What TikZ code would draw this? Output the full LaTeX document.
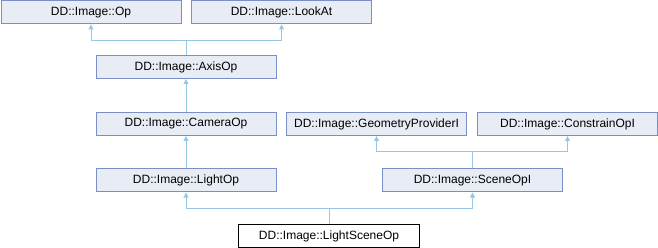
\documentclass[tikz,border=0pt]{standalone}
\usepackage{fontspec}
\setmainfont{Liberation Sans}
\usetikzlibrary{arrows.meta,positioning}

\definecolor{clsfill}{RGB}{232,236,244}
\definecolor{clsdraw}{RGB}{122,143,199}
\definecolor{inhline}{RGB}{150,200,228}

\begin{document}
\begin{tikzpicture}[
  x=1pt, y=-1pt,
  font=\fontsize{12}{14}\selectfont,
  cls/.style={
    draw=clsdraw,
    fill=clsfill,
    line width=1pt,
    minimum width=180pt,
    minimum height=23pt,
    inner sep=0pt,
    anchor=north west
  },
  current/.style={
    cls,
    draw=black,
    fill=white,
    minimum width=181pt
  },
  inherit/.style={
    -{Triangle[length=5pt,width=5pt]},
    draw=inhline,
    line width=1pt
  }
]
\useasboundingbox (0,0) rectangle (658,248);

% Base classes
\node[cls] (op) at (0.5,0.5) {DD::Image::Op};
\node[cls] (lookat) at (191,0.5) {DD::Image::LookAt};
\node[cls] (axisop) at (95.5,55) {DD::Image::AxisOp};
\node[cls] (cameraop) at (95.5,112) {DD::Image::CameraOp};
\node[cls] (lightop) at (95.5,168.5) {DD::Image::LightOp};
\node[cls] (geomprov) at (286,112) {DD::Image::GeometryProviderI};
\node[cls] (constrain) at (477,112) {DD::Image::ConstrainOpI};
\node[cls] (sceneopi) at (382,168.5) {DD::Image::SceneOpI};

% Derived class
\node[current] (lightsceneop) at (238,224) {DD::Image::LightSceneOp};

% Junctions
\coordinate (jaxis) at (axisop.north |- 0,41);
\coordinate (jscene) at (sceneopi.north |- 0,152);
\coordinate (jlight) at (lightsceneop.north |- 0,208);

% Inheritance
\draw[inherit] (axisop.north) -- (jaxis) -| (op.south);
\draw[inherit] (axisop.north) -- (jaxis) -| (lookat.south);
\draw[inherit] (cameraop.north) -- (axisop.south);
\draw[inherit] (lightop.north) -- (cameraop.south);
\draw[inherit] (sceneopi.north) -- (jscene) -| (geomprov.south);
\draw[inherit] (sceneopi.north) -- (jscene) -| (constrain.south);
\draw[inherit] (lightsceneop.north) -- (jlight) -| (lightop.south);
\draw[inherit] (lightsceneop.north) -- (jlight) -| (sceneopi.south);

\end{tikzpicture}
\end{document}
